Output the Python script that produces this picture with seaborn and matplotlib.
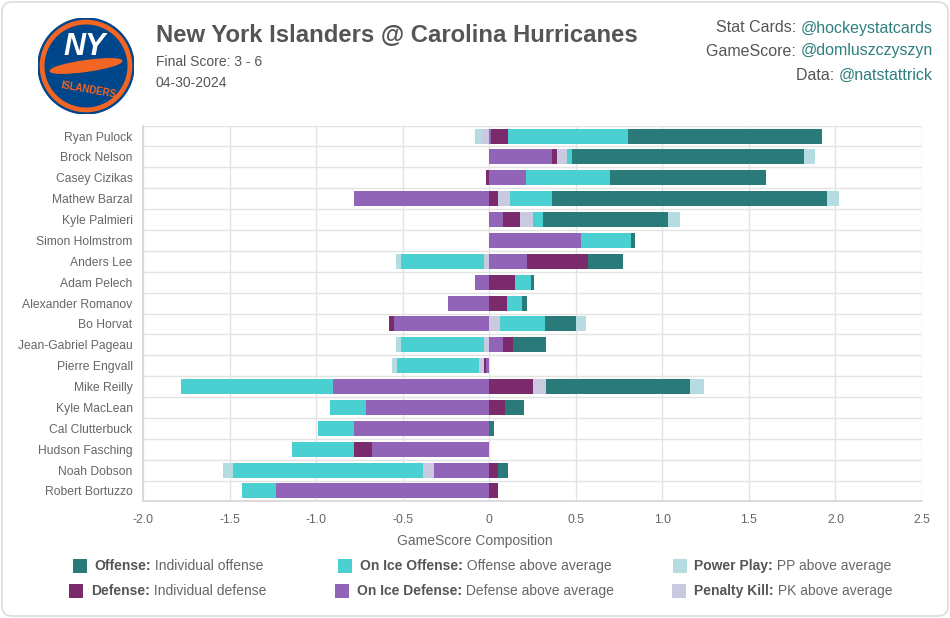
import numpy as np
import matplotlib
matplotlib.use("Agg")
import matplotlib.pyplot as plt
import seaborn as sns
from matplotlib.patches import FancyBboxPatch, Rectangle, Circle, Ellipse
from matplotlib.transforms import IdentityTransform

# Dados do gráfico
players = ["Ryan Pulock", "Brock Nelson", "Casey Cizikas", "Mathew Barzal", "Kyle Palmieri",
           "Simon Holmstrom", "Anders Lee", "Adam Pelech", "Alexander Romanov", "Bo Horvat",
           "Jean-Gabriel Pageau", "Pierre Engvall", "Mike Reilly", "Kyle MacLean",
           "Cal Clutterbuck", "Hudson Fasching", "Noah Dobson", "Robert Bortuzzo"]

on_ice_defense = [0.01, 0.36, 0.21, -0.78, 0.08, 0.53, 0.22, -0.08, -0.24, -0.55,
                  0.08, -0.02, -0.90, -0.71, -0.78, -0.68, -0.32, -1.23]
defense = [0.10, 0.03, -0.02, 0.05, 0.10, 0.0, 0.35, 0.15, 0.10, -0.03,
           0.06, -0.01, 0.25, 0.09, 0.0, -0.10, 0.05, 0.05]
penalty_kill = [-0.04, 0.06, 0.0, 0.07, 0.07, 0.0, -0.03, 0.0, 0.0, 0.06,
                -0.03, -0.03, 0.08, 0.0, 0.0, 0.0, -0.06, 0.0]
on_ice_offense = [0.69, 0.03, 0.49, 0.24, 0.06, 0.29, -0.48, 0.09, 0.09, 0.26,
                  -0.48, -0.47, -0.88, -0.21, -0.21, -0.36, -1.10, -0.20]
offense = [1.12, 1.34, 0.90, 1.59, 0.72, 0.02, 0.20, 0.02, 0.03, 0.18,
           0.19, 0.0, 0.83, 0.11, 0.03, 0.0, 0.06, 0.0]
power_play = [-0.04, 0.06, 0.0, 0.07, 0.07, 0.0, -0.03, 0.0, 0.0, 0.06,
              -0.03, -0.03, 0.08, 0.0, 0.0, 0.0, -0.06, 0.0]

x_ticks = [-2.0, -1.5, -1.0, -0.5, 0, 0.5, 1.0, 1.5, 2.0, 2.5]
x_tick_labels = ["-2.0", "-1.5", "-1.0", "-0.5", "0", "0.5", "1.0", "1.5", "2.0", "2.5"]

# Ordem de empilhamento (como no gráfico original)
series = [
    ("On Ice Defense", on_ice_defense, "#9264b8"),
    ("Defense", defense, "#7b2a6b"),
    ("Penalty Kill", penalty_kill, "#c9cadf"),
    ("On Ice Offense", on_ice_offense, "#4bd0d1"),
    ("Offense", offense, "#2a7a7a"),
    ("Power Play", power_play, "#b5dde1"),
]

# Legenda: (cor, rótulo em negrito, descrição)
legend_items = [
    [("#2a7a7a", "Offense:", "Individual offense"),
     ("#4bd0d1", "On Ice Offense:", "Offense above average"),
     ("#b5dde1", "Power Play:", "PP above average")],
    [("#7b2a6b", "Defense:", "Individual defense"),
     ("#9264b8", "On Ice Defense:", "Defense above average"),
     ("#c9cadf", "Penalty Kill:", "PK above average")],
]

sns.set_theme(style="white")
plt.rcParams["font.family"] = ["Liberation Sans", "DejaVu Sans"]

W, H = 950, 618
fig = plt.figure(figsize=(W / 100, H / 100), dpi=100)
fig.patch.set_facecolor("white")


def px(x, y):
    return x / W, 1 - y / H


# Cartão com borda arredondada
card = FancyBboxPatch((2, 2), W - 4, H - 4, boxstyle="round,pad=0,rounding_size=10",
                      transform=IdentityTransform(), facecolor="white",
                      edgecolor="#dcdcdc", linewidth=1.2, zorder=-10)
fig.patches.append(card)

# Eixo principal
ax_left, ax_right, ax_top, ax_bottom = 143, 922, 125.6, 501.4
ax = fig.add_axes([ax_left / W, 1 - ax_bottom / H, (ax_right - ax_left) / W, (ax_bottom - ax_top) / H])

y = np.arange(len(players))
pos_base = np.zeros(len(players))
neg_base = np.zeros(len(players))
for name, vals, color in series:
    v = np.array(vals)
    left = np.where(v >= 0, pos_base, neg_base)
    ax.barh(y, v, left=left, height=0.72, color=color, edgecolor="none", zorder=3)
    pos_base = pos_base + np.where(v >= 0, v, 0)
    neg_base = neg_base + np.where(v < 0, v, 0)

ax.set_xlim(-2.0, 2.5)
ax.set_ylim(len(players) - 0.5, -0.5)
ax.set_xticks(x_ticks)
ax.set_xticklabels(x_tick_labels)
ax.set_yticks(y)
ax.set_yticklabels(players)
ax.set_yticks(np.arange(len(players) + 1) - 0.5, minor=True)

grid_c = "#e3e3e3"
ax.grid(axis="x", which="major", color=grid_c, linewidth=1, zorder=0)
ax.grid(axis="y", which="minor", color=grid_c, linewidth=1, zorder=0)
ax.tick_params(axis="y", which="major", length=0, pad=7.5, labelsize=8.7, labelcolor="#666666")
ax.tick_params(axis="y", which="minor", length=6, color=grid_c, width=1)
ax.tick_params(axis="x", which="major", length=6, color=grid_c, width=1, pad=3,
               labelsize=8.7, labelcolor="#666666")
for side in ["top", "right"]:
    ax.spines[side].set_visible(False)
ax.spines["left"].set_color("#d6d6d6")
ax.spines["bottom"].set_color("#d6d6d6")

fig.text(*px(475, 541), "GameScore Composition", ha="center", va="center",
         fontsize=10, color="#666666")

# Cabeçalho
fig.text(*px(156, 35), "New York Islanders @ Carolina Hurricanes", ha="left", va="center",
         fontsize=17.2, fontweight="bold", color="#555555")
fig.text(*px(156, 62), "Final Score: 3 - 6", ha="left", va="center", fontsize=10, color="#555555")
fig.text(*px(156, 83), "04-30-2024", ha="left", va="center", fontsize=10, color="#555555")

renderer = fig.canvas.get_renderer()
credits = [("Stat Cards: ", "@hockeystatcards", 28),
           ("GameScore: ", "@domluszczyszyn", 51),
           ("Data: ", "@natstattrick", 75)]
for label, handle, yy in credits:
    t = fig.text(*px(933, yy), handle, ha="right", va="center", fontsize=11.5, color="#2f7f7f")
    bb = t.get_window_extent(renderer)
    fig.text(bb.x0 / W, 1 - yy / H, label, ha="right", va="center", fontsize=11.5, color="#555555")

# Logo simplificado
lax = fig.add_axes([38 / W, 1 - 114 / H, 96 / W, 96 / H])
lax.set_xlim(-1, 1)
lax.set_ylim(-1, 1)
lax.set_aspect("equal")
lax.axis("off")
lax.add_patch(Circle((0, 0), 1.0, color="#00468b"))
lax.add_patch(Circle((0, 0), 0.95, color="#f26522"))
lax.add_patch(Circle((0, 0), 0.85, color="#00468b"))
lax.add_patch(Ellipse((0.0, 0.0), 1.5, 0.22, angle=8, color="#f26522"))
lax.text(-0.02, 0.4, "NY", ha="center", va="center", fontsize=22, fontweight="bold",
         color="white", style="italic")
lax.text(0.05, -0.5, "ISLANDERS", ha="center", va="center", fontsize=7, fontweight="bold",
         color="#f26522", rotation=-10)

# Legenda manual
col_centers = [168, 474.5, 782]
row_ys = [566, 591]
sw, gap = 14, 8
for r, row in enumerate(legend_items):
    for c, (color, bold, desc) in enumerate(row):
        yy = row_ys[r]
        tb = fig.text(0, 0, bold, fontsize=10, fontweight="bold", color="#555555")
        td = fig.text(0, 0, " " + desc, fontsize=10, color="#666666")
        wb = tb.get_window_extent(renderer).width
        wd = td.get_window_extent(renderer).width
        total = sw + gap + wb + wd
        x0 = col_centers[c] - total / 2
        fig.patches.append(Rectangle((x0, H - yy - sw / 2), sw, sw, transform=IdentityTransform(),
                                     facecolor=color, edgecolor="none"))
        tb.set_position(((x0 + sw + gap) / W, 1 - yy / H))
        tb.set_va("center")
        td.set_position(((x0 + sw + gap + wb) / W, 1 - yy / H))
        td.set_va("center")

fig.savefig("out.png", dpi=100, facecolor="white")
